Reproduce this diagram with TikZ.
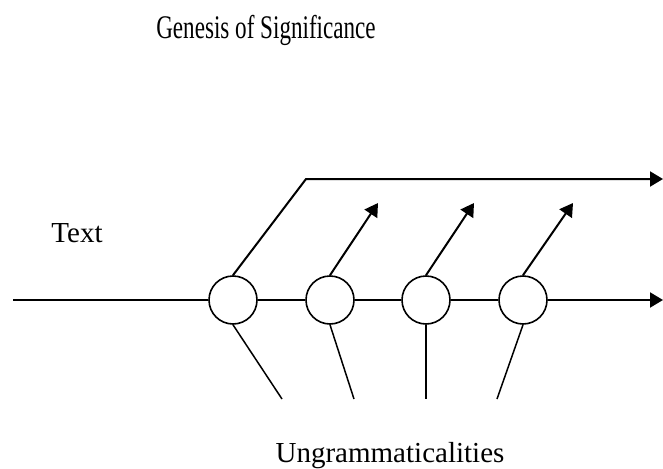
\documentclass[tikz,border=0pt]{standalone}
\usepackage{fontspec}
\setmainfont{Liberation Serif}
\usepackage{graphicx}
\usetikzlibrary{arrows.meta,positioning}

\begin{document}
\begin{tikzpicture}[x=1pt, y=-1pt, line width=2pt,
  junction/.style={circle, draw, line width=1.6pt, minimum size=48pt, inner sep=0pt},
  flow/.style={-{Triangle[length=13pt,width=15pt]}},
  lbl/.style={font=\fontsize{29}{34}\selectfont, inner sep=0pt, anchor=base},
  leg/.style={line width=1.5pt}]
  \useasboundingbox (0,0) rectangle (663,468);
  % labels
  \node[lbl] (title) at (266,39) {\fontsize{33}{38}\selectfont\scalebox{0.7}[1]{Genesis of Significance}};
  \node[lbl] (txt) at (77,242) {Text};
  \node[lbl] (ungr) at (390,462) {Ungrammaticalities};
  % the four junctions on the text line
  \foreach \i/\x in {1/233,2/330,3/426,4/523}
    \node[junction] (c\i) at (\x,300) {};
  % free ends
  \coordinate (start) at (13,300);
  \coordinate (out) at (663,300);
  \coordinate (bend) at (306,179);
  \coordinate (top) at (663,179);
  \coordinate (u2) at (378,203);
  \coordinate (u3) at (474,203);
  \coordinate (u4) at (573,203);
  \coordinate (l1) at (282,399);
  \coordinate (l2) at (354,399);
  \coordinate (l3) at (426,399);
  \coordinate (l4) at (497,399);
  % main line
  \draw (start) -- (c1);
  \draw (c1) -- (c2);
  \draw (c2) -- (c3);
  \draw (c3) -- (c4);
  \draw[flow] (c4) -- (out);
  % upper line and branches
  \draw[flow] (c1.north) -- (bend) -- (top);
  \foreach \i in {2,3,4}
    \draw[flow] (c\i.north) -- (u\i);
  % ungrammaticalities feeding in from below
  \foreach \i in {1,...,4}
    \draw[leg] (c\i.south) -- (l\i);
\end{tikzpicture}
\end{document}
